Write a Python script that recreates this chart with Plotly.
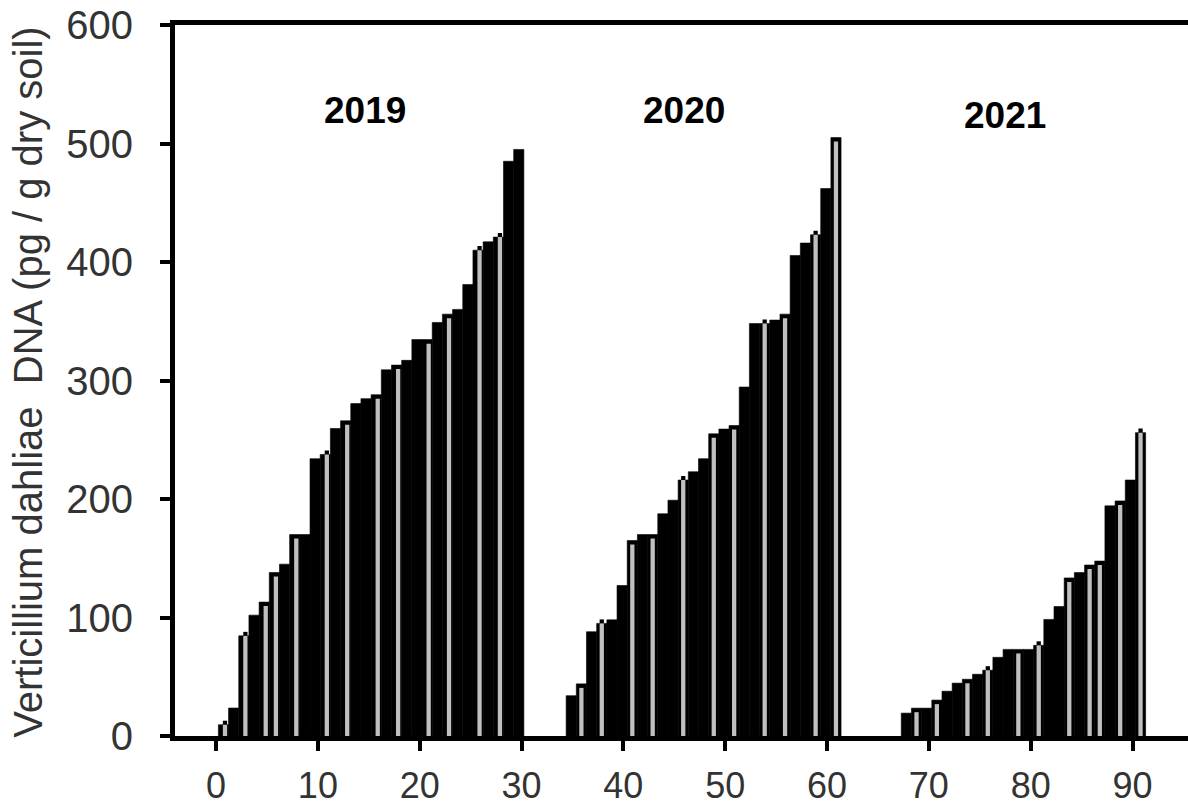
import plotly.graph_objects as go

# ---------------- data ----------------
year_labels = ["2019", "2020", "2021"]
year_label_x = [14.6, 46.0, 77.5]
year_label_y = [528, 528, 524]

idx_2019 = list(range(1, 31))
values_2019 = [9.5, 23.6, 84.5, 102, 113, 138, 145, 170, 170, 234,
               237.6, 259.5, 266, 280.5, 284.7, 288, 309, 313, 317, 334.5,
               334.5, 349, 356, 360, 381, 410, 417, 421, 485, 495]
# 0 = solid bar, 1 = light stripe visible, 2 = light stripe with black cap
stripe_2019 = [2, 0, 2, 0, 1, 1, 0, 1, 0, 0,
               2, 0, 1, 0, 0, 1, 0, 1, 0, 0,
               1, 0, 1, 0, 0, 2, 0, 2, 0, 0]

idx_2020 = list(range(35, 62))
values_2020 = [34, 44, 88, 95, 98, 127, 165, 170, 170, 187.5,
               199, 216, 223, 234, 255, 259, 262, 294.5, 348, 348,
               351, 356, 405.5, 416, 423, 462, 505]
stripe_2020 = [0, 1, 0, 2, 0, 0, 1, 0, 1, 0,
               0, 2, 0, 0, 1, 0, 1, 0, 0, 2,
               0, 1, 0, 0, 2, 0, 1]

idx_2021 = list(range(68, 92))
values_2021 = [19.3, 23.5, 23.5, 30.3, 37.8, 44.6, 47.9, 52.1, 55.5, 66.4,
               73.1, 73.1, 73.1, 76.5, 98.4, 109.3, 133.4, 137.9, 144.3, 147.6,
               194.2, 198.4, 216, 256]
stripe_2021 = [0, 1, 0, 1, 0, 0, 1, 0, 2, 0,
               0, 1, 0, 2, 0, 0, 1, 0, 1, 1,
               0, 1, 0, 2]

x_ticks = [0, 10, 20, 30, 40, 50, 60, 70, 80, 90]
y_ticks = [0, 100, 200, 300, 400, 500, 600]
y_title = "Verticillium dahliae\u00a0 DNA (pg / g dry soil)"

# ---------------- styling ----------------
FONT = "Liberation Sans, Arial, sans-serif"
TEXT_COLOR = "#333333"
STRIPE_W = 0.42
CAP = 3.4
groups = [
    (idx_2019, values_2019, stripe_2019, -0.77, 0.15),
    (idx_2020, values_2020, stripe_2020, -0.62, 0.0),
    (idx_2021, values_2021, stripe_2021, -0.71, 0.0),
]

fig = go.Figure()
for idx, vals, codes, off, soff in groups:
    fig.add_trace(go.Bar(
        x=idx, y=vals, width=1.0, offset=off,
        marker=dict(color="black", line=dict(color="black", width=0.6)),
        showlegend=False, hovertemplate="%{x}: %{y}<extra></extra>"))
    s_off = off + 0.5 - STRIPE_W / 2 + soff
    cap_x = [i for i, c in zip(idx, codes) if c == 2]
    cap_y = [v + CAP for v, c in zip(vals, codes) if c == 2]
    fig.add_trace(go.Bar(
        x=cap_x, y=cap_y, width=STRIPE_W, offset=s_off,
        marker=dict(color="black", line=dict(width=0)),
        showlegend=False, hoverinfo="skip"))
    st_x = [i for i, c in zip(idx, codes) if c > 0]
    st_y = [(v - CAP if c == 1 else v) for v, c in zip(vals, codes) if c > 0]
    fig.add_trace(go.Bar(
        x=st_x, y=st_y, width=STRIPE_W, offset=s_off,
        marker=dict(color="#c0c0c0", line=dict(width=0)),
        showlegend=False, hoverinfo="skip"))

for lbl, lx, ly in zip(year_labels, year_label_x, year_label_y):
    fig.add_annotation(x=lx, y=ly, xref="x", yref="y", text=lbl, showarrow=False,
                       font=dict(family=FONT, size=37, color="black", weight="bold"),
                       xanchor="center", yanchor="middle")

fig.add_annotation(x=-0.145, y=0.497, xref="paper", yref="paper", text=y_title,
                   showarrow=False, textangle=-90,
                   font=dict(family=FONT, size=40, color=TEXT_COLOR),
                   xanchor="center", yanchor="middle")

fig.update_layout(
    template="none",
    width=1188, height=808,
    margin=dict(l=175, r=0, t=25, b=72, pad=0, autoexpand=False),
    barmode="overlay",
    plot_bgcolor="white", paper_bgcolor="white",
    showlegend=False,
    xaxis=dict(range=[-4.03, 95.45], tickmode="array", tickvals=x_ticks,
               ticktext=[str(t) for t in x_ticks], automargin=False,
               ticks="outside", ticklen=10, tickwidth=3.5, tickcolor="black",
               showline=True, linecolor="black", linewidth=5, mirror=True,
               showgrid=False, zeroline=False, ticklabelstandoff=4,
               tickfont=dict(family=FONT, size=36, color=TEXT_COLOR)),
    yaxis=dict(range=[0, 600], tickmode="array", tickvals=y_ticks,
               ticktext=[str(t) for t in y_ticks], automargin=False,
               ticks="outside", ticklen=10, tickwidth=3.5, tickcolor="black",
               showline=True, linecolor="black", linewidth=5, mirror=False,
               showgrid=False, zeroline=False, ticklabelstandoff=19,
               tickfont=dict(family=FONT, size=40, color=TEXT_COLOR)),
)

fig.write_html("out.html",
               config={"displayModeBar": False},
               post_script="document.body.style.margin='0';"
                           "document.body.style.overflow='hidden';")
